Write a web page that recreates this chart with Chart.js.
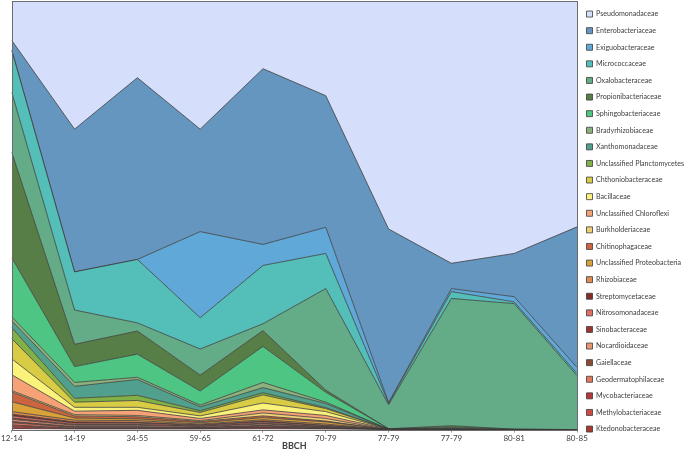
<!DOCTYPE html>
<html>
<head>
<meta charset="utf-8">
<script src="https://cdn.jsdelivr.net/npm/chart.js@4.4.1/dist/chart.umd.min.js"></script>
<style>
  html, body { margin: 0; padding: 0; background: #fff; }
  #wrap { width: 685px; height: 451px; position: relative; }
</style>
</head>
<body>
<div id="wrap"><canvas id="bbchChart"></canvas></div>
<script>
// BBCH stages (x axis)
const categories = ['12-14', '14-19', '34-55', '59-65', '61-72', '70-79', '77-79', '77-79', '80-81', '80-85'];

// relative abundance (%) per family, bottom of the stack first
const ktedonobacteraceae   = [0.3, 0.1, 0.1, 0.1, 0.2, 0.1, 0, 0, 0, 0];
const methylobacteriaceae  = [0.4, 0.1, 0.1, 0.1, 0.2, 0.1, 0, 0, 0, 0];
const mycobacteriaceae     = [0.4, 0.1, 0.1, 0.1, 0.2, 0.1, 0, 0, 0, 0];
const geodermatophilaceae  = [0.5, 0.2, 0.2, 0.1, 0.2, 0.1, 0, 0, 0, 0];
const gaiellaceae          = [0.3, 0.2, 0.2, 0.1, 0.2, 0.1, 0, 0, 0, 0];
const nocardioidaceae      = [0.5, 0.3, 0.3, 0.2, 0.3, 0.1, 0, 0, 0, 0];
const sinobacteraceae      = [0.3, 0.2, 0.2, 0.1, 0.2, 0.1, 0, 0, 0, 0];
const nitrosomonadaceae    = [0.5, 0.3, 0.3, 0.2, 0.3, 0.2, 0, 0, 0, 0];
const streptomycetaceae    = [0.4, 0.3, 0.2, 0.1, 0.2, 0.1, 0, 0, 0, 0];
const rhizobiaceae         = [0.6, 0.4, 0.4, 0.2, 0.3, 0.3, 0, 0, 0, 0];
const unclProteobacteria   = [2.3, 0.5, 0.4, 0.3, 0.5, 0.5, 0, 0, 0, 0];
const chitinophagaceae     = [2.3, 0.5, 0.5, 0.3, 0.4, 0.2, 0, 0, 0, 0];
const burkholderiaceae     = [0.3, 0.3, 0.3, 0.2, 0.7, 0.6, 0, 0, 0, 0];
const unclChloroflexi      = [3.7, 0.8, 1.2, 0.5, 0.7, 0.7, 0.1, 0.1, 0, 0];
const bacillaceae          = [3.7, 0.9, 0.7, 0.6, 1.6, 0.9, 0, 0, 0, 0];
const chthoniobacteraceae  = [4.7, 1.2, 1.6, 0.8, 1.9, 0.7, 0, 0, 0, 0];
const unclPlanctomycetes   = [2.6, 0.9, 1.2, 0.4, 0.5, 0.2, 0, 0, 0, 0];
const xanthomonadaceae     = [1.6, 2.8, 3.7, 0.9, 1.2, 1.0, 0, 0.1, 0, 0];
const bradyrhizobiaceae    = [0.9, 0.9, 0.5, 0.4, 1.2, 0.3, 0, 0, 0, 0];
const sphingobacteriaceae  = [13.8, 3.7, 5.4, 3.3, 8.4, 2.3, 0.1, 0.3, 0.1, 0];
const propionibacteriaceae = [24.6, 5.2, 5.4, 3.7, 3.7, 0.5, 0, 0.4, 0, 0];
const oxalobacteraceae     = [14.0, 8.0, 1.9, 6.1, 1.6, 23.7, 5.6, 29.7, 29.3, 12.6];
const micrococcaceae       = [9.8, 8.9, 14.8, 7.3, 13.6, 8.2, 0.3, 1.6, 0.4, 0.5];
const exiguobacteraceae    = [0, 0, 0, 20.1, 4.9, 6.1, 0.2, 0.7, 1.2, 1.4];
const enterobacteriaceae   = [2.3, 33.3, 42.4, 23.9, 41.0, 30.7, 40.5, 5.9, 10.1, 32.8];
const pseudomonadaceae     = [9.2, 29.9, 17.9, 29.9, 15.8, 22.1, 53.2, 61.2, 58.9, 52.7];

const series = [
    ['Ktedonobacteraceae', ktedonobacteraceae, '#a8392c'],
    ['Methylobacteriaceae', methylobacteriaceae, '#d04a44'],
    ['Mycobacteriaceae', mycobacteriaceae, '#b6353a'],
    ['Geodermatophilaceae', geodermatophilaceae, '#e4785a'],
    ['Gaiellaceae', gaiellaceae, '#8c4a32'],
    ['Nocardioidaceae', nocardioidaceae, '#ea9474'],
    ['Sinobacteraceae', sinobacteraceae, '#9c3530'],
    ['Nitrosomonadaceae', nitrosomonadaceae, '#e2705e'],
    ['Streptomycetaceae', streptomycetaceae, '#862c24'],
    ['Rhizobiaceae', rhizobiaceae, '#e18c4c'],
    ['Unclassified Proteobacteria', unclProteobacteria, '#d9a33a'],
    ['Chitinophagaceae', chitinophagaceae, '#cc6440'],
    ['Burkholderiaceae', burkholderiaceae, '#f2cf72'],
    ['Unclassified Chloroflexi', unclChloroflexi, '#f6a276'],
    ['Bacillaceae', bacillaceae, '#fbf27c'],
    ['Chthoniobacteraceae', chthoniobacteraceae, '#d8cc44'],
    ['Unclassified Planctomycetes', unclPlanctomycetes, '#80b046'],
    ['Xanthomonadaceae', xanthomonadaceae, '#51a08e'],
    ['Bradyrhizobiaceae', bradyrhizobiaceae, '#8cb27c'],
    ['Sphingobacteriaceae', sphingobacteriaceae, '#4ec583'],
    ['Propionibacteriaceae', propionibacteriaceae, '#577e46'],
    ['Oxalobacteraceae', oxalobacteraceae, '#63ac87'],
    ['Micrococcaceae', micrococcaceae, '#53bfb8'],
    ['Exiguobacteraceae', exiguobacteraceae, '#5fa8d8'],
    ['Enterobacteriaceae', enterobacteriaceae, '#6596c0'],
    ['Pseudomonadaceae', pseudomonadaceae, '#d5defa']
];

const datasets = series.map(([label, data, color], i) => ({
    label,
    data,
    backgroundColor: color,
    borderColor: '#3c3c3c',
    borderWidth: 0.8,
    pointRadius: 0,
    tension: 0,
    fill: i === 0 ? 'origin' : '-1'
}));

// frame around the plot area
const plotFrame = {
    id: 'plotFrame',
    afterDatasetsDraw(chart) {
        const { ctx, chartArea: a } = chart;
        ctx.save();
        ctx.strokeStyle = '#6b6b6b';
        ctx.lineWidth = 1;
        ctx.strokeRect(Math.round(a.left) + 0.5, Math.round(a.top) + 0.5,
            Math.round(a.right - a.left), Math.round(a.bottom - a.top));
        ctx.restore();
    }
};

// keep the legend column narrow, as in the original
const legendWidth = {
    id: 'legendWidth',
    beforeInit(chart) {
        const orig = chart.legend.fit;
        chart.legend.fit = function () {
            orig.call(this);
            this.width = 108;
        };
    }
};

new Chart(document.getElementById('bbchChart').getContext('2d'), {
    type: 'line',
    data: { labels: categories, datasets },
    options: {
        responsive: true,
        maintainAspectRatio: false,
        animation: false,
        layout: { padding: { top: 1, left: 0, right: 0, bottom: 0 } },
        scales: {
            x: {
                offset: false,
                grid: { display: true, drawOnChartArea: false, tickLength: 3, color: '#9a9a9a' },
                border: { display: false },
                ticks: {
                    color: '#404040',
                    padding: 1,
                    maxRotation: 0,
                    autoSkip: false,
                    font: { family: 'Lato', size: 8 }
                },
                title: {
                    display: true,
                    text: 'BBCH',
                    color: '#404040',
                    padding: { top: -4, bottom: 0 },
                    font: { family: 'Lato', size: 9, weight: 'bold' }
                }
            },
            y: {
                display: false,
                stacked: true,
                min: 0,
                max: 100
            }
        },
        plugins: {
            legend: {
                position: 'right',
                align: 'start',
                reverse: true,
                labels: {
                    boxWidth: 6,
                    boxHeight: 6,
                    padding: 9.5,
                    color: '#404040',
                    font: { family: 'Lato', size: 7.1 }
                }
            },
            tooltip: { enabled: false }
        }
    },
    plugins: [plotFrame, legendWidth]
});
</script>
</body>
</html>
